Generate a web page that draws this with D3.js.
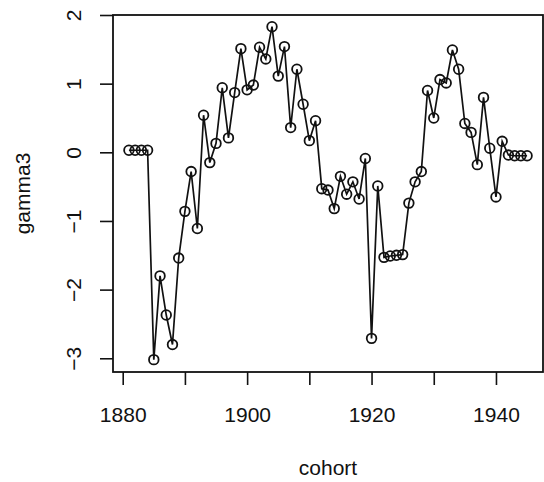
<!DOCTYPE html>
<html>
<head>
<meta charset="utf-8">
<script src="https://cdn.jsdelivr.net/npm/d3@7"></script>
<style>
  body { margin: 0; background: #fff; }
  text { font-family: "Liberation Sans", Arial, sans-serif; fill: #111; }
</style>
</head>
<body>
<svg id="chart" width="544" height="482"></svg>
<script>
// cohort years and gamma3 values
const years = d3.range(1881, 1946);
const gamma3 = [
  0.03, 0.03, 0.03, 0.03, -3.02, -1.80, -2.37, -2.80, -1.54, -0.86,
  -0.28, -1.11, 0.54, -0.15, 0.13, 0.94, 0.21, 0.87, 1.51, 0.91,
  0.98, 1.53, 1.36, 1.83, 1.11, 1.54, 0.36, 1.21, 0.70, 0.17,
  0.46, -0.53, -0.55, -0.82, -0.35, -0.61, -0.43, -0.68, -0.09, -2.71,
  -0.49, -1.53, -1.51, -1.50, -1.49, -0.74, -0.43, -0.28, 0.90, 0.50,
  1.06, 1.01, 1.49, 1.21, 0.42, 0.29, -0.18, 0.80, 0.06, -0.65,
  0.16, -0.04, -0.05, -0.05, -0.05
];
const xTicks = [1880, 1890, 1900, 1910, 1920, 1930, 1940];
const xTickLabels = ["1880", "", "1900", "", "1920", "", "1940"];
const yTicks = [-3, -2, -1, 0, 1, 2];
const yTickLabels = ["\u22123", "\u22122", "\u22121", "0", "1", "2"];

const data = years.map((y, i) => ({ year: y, value: gamma3[i] }));

const box = { left: 113, right: 543, top: 15, bottom: 372 };
const svg = d3.select("#chart");

// R style 4% padding on x
let xr = d3.extent(years);
let pad = (xr[1] - xr[0]) * 0.04;
let x = d3.scaleLinear()
  .domain([xr[0] - pad, xr[1] + pad])
  .range([box.left, box.right]);

let y = d3.scaleLinear()
  .domain([-3.2, 2.0])
  .range([box.bottom, box.top]);

// axes
let xAxis = d3.axisBottom(x)
  .tickValues(xTicks)
  .tickSize(13)
  .tickPadding(22)
  .tickFormat((d, i) => xTickLabels[i]);
let gx = svg.append("g")
  .attr("transform", `translate(0,${box.bottom})`)
  .call(xAxis);
gx.select(".domain").remove();
gx.selectAll(".tick line").attr("stroke", "#111").attr("stroke-width", 1.6);
gx.selectAll(".tick text")
  .attr("font-size", 21)
  .attr("fill", "#111")
  .attr("dy", "0.71em");

let yAxis = d3.axisLeft(y)
  .tickValues(yTicks)
  .tickSize(13)
  .tickFormat((d, i) => yTickLabels[i]);
let gy = svg.append("g")
  .attr("transform", `translate(${box.left},0)`)
  .call(yAxis);
gy.select(".domain").remove();
gy.selectAll(".tick line").attr("stroke", "#111").attr("stroke-width", 1.6);
gy.selectAll(".tick text")
  .attr("font-size", 21)
  .attr("fill", "#111")
  .attr("text-anchor", "middle")
  .attr("x", null)
  .attr("dy", null)
  .attr("transform", "translate(-32,0) rotate(-90)");

// plot frame
svg.append("rect")
  .attr("x", box.left)
  .attr("y", box.top)
  .attr("width", box.right - box.left)
  .attr("height", box.bottom - box.top)
  .attr("fill", "none")
  .attr("stroke", "#111")
  .attr("stroke-width", 1.8);

// line through points (type = "o")
let line = d3.line()
  .x(d => x(d.year))
  .y(d => y(d.value));

svg.append("path")
  .datum(data)
  .attr("d", line)
  .attr("fill", "none")
  .attr("stroke", "#111")
  .attr("stroke-width", 1.7);

svg.append("g")
  .selectAll("circle")
  .data(data)
  .join("circle")
  .attr("cx", d => x(d.year))
  .attr("cy", d => y(d.value))
  .attr("r", 4.8)
  .attr("fill", "none")
  .attr("stroke", "#111")
  .attr("stroke-width", 1.8);

// axis titles
svg.append("text")
  .attr("x", (box.left + box.right) / 2)
  .attr("y", 475)
  .attr("text-anchor", "middle")
  .attr("font-size", 21)
  .text("cohort");

svg.append("text")
  .attr("transform", `translate(30,${(box.top + box.bottom) / 2}) rotate(-90)`)
  .attr("text-anchor", "middle")
  .attr("font-size", 21)
  .text("gamma3");
</script>
</body>
</html>
